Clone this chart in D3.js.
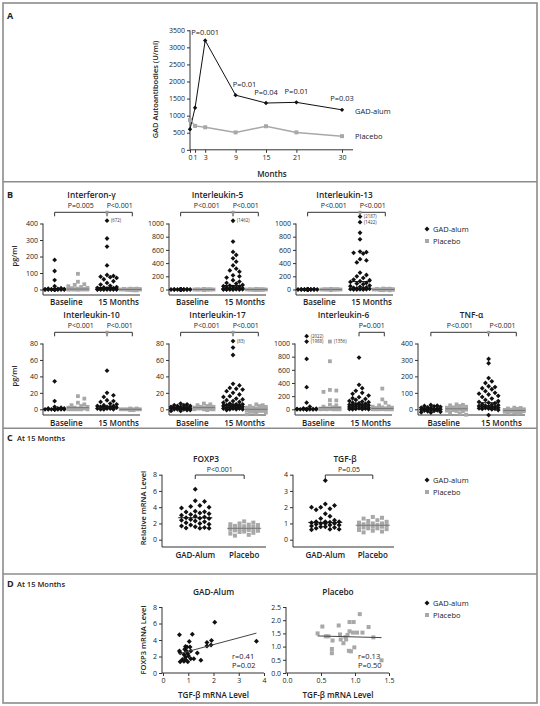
<!DOCTYPE html>
<html><head><meta charset="utf-8">
<script src="https://cdn.jsdelivr.net/npm/d3@7"></script>
<style>body{margin:0;background:#fff}svg text{font-family:'Open Sans',sans-serif}</style>
</head><body>
<svg id="c" width="540" height="706"></svg>
<script>
// ================= DATA =================
// Panel A
const months = [0, 1, 3, 9, 15, 21, 30];
const gadAlumAntibodies = [600, 1230, 3200, 1600, 1370, 1390, 1170];
const placeboAntibodies = [870, 700, 660, 510, 690, 510, 400];
const antibodyPValues = ["", "", "P=0.001", "P=0.01", "P=0.04", "P=0.01", "P=0.03"];
const antibodyTicks = [0, 500, 1000, 1500, 2000, 2500, 3000, 3500];

// Panel B (pg/ml) : groups = Baseline GAD-alum, Baseline placebo, 15 Months GAD-alum, 15 Months placebo
const timepoints = ["Baseline", "15 Months"];
const ifnBaseGad = [179,112,57,20,8,5,3,2,1,1,0,0,0,0,0,0,0,0,0,0,0,0];
const ifnBasePla = [95,47,32,28,20,15,10,8,5,3,2,1,0,0,0,0,0,0,0,0];
const ifn15Gad = [672,309,260,146,88,82,78,75,70,62,50,40,30,22,15,12,10,8,6,5,4,3,2,1,0,0,0,0,0,0,0];
const ifn15Pla = [5,5,4,3,2,1,0,0,0,0,0,0,-2,-3,-5,-5];
const ifnP = ["P=0.005", "P<0.001"];
const ifnCaps = [{group: 2, value: 672, shown: 417}];
const ifnTicks = [0, 100, 200, 300, 400];

const il5BaseGad = [3,2,1,1,0,0,0,0,0,0,0,0,0,0,0,0,0,0,0,0,0,0];
const il5BasePla = [3,2,1,1,0,0,0,0,0,0,0,0,0,0,0,0,0,0,0,0];
const il515Gad = [1462,726,569,523,472,421,365,315,289,270,215,200,180,140,120,100,90,70,60,50,45,40,30,25,20,15,10,8,5,4,3,2,0,0,0,0,0];
const il515Pla = [4,3,2,1,0,0,0,0,0,0,0,0,0,0,-1,-2,-3,-4];
const il5P = ["P<0.001", "P<0.001"];
const il5Caps = [{group: 2, value: 1462, shown: 1042}];
const il5Ticks = [0, 200, 400, 600, 800, 1000];

const il13BaseGad = [5,4,3,2,1,0,0,0,0,0,0,0,0,0,0,0,0,0,0,0,0,-2];
const il13BasePla = [5,4,3,2,1,0,0,0,0,0,0,0,0,0,0,0,0,0,0,-2];
const il1315Gad = [2187,1422,860,760,575,565,555,545,460,440,410,255,220,200,175,150,140,125,115,100,90,80,60,50,40,30,25,20,15,10,5,3,2,0,0,0];
const il1315Pla = [15,12,10,8,5,3,0,0,0,0,-3,-5,-8,-10,-12];
const il13P = ["P<0.001", "P<0.001"];
const il13Caps = [{group: 2, value: 2187, shown: 1105}, {group: 2, value: 1422, shown: 1020}];
const il13Ticks = [0, 200, 400, 600, 800, 1000];

const il10BaseGad = [34,10,3,2,1,1,1,0,0,0,0,0,0,0,0,0,0,0,0,0];
const il10BasePla = [16,13,8,6,5,4,3,2,2,1,1,0,0,0,0,0,0];
const il1015Gad = [47,20,17,15,11,10,9,7,6,5,4,4,3,3,3,2,2,2,1,1,1,0,0,0];
const il1015Pla = [1,1,0,0,0,0,0,0,0,0,0,0,0,-1,-1];
const il10P = ["P<0.001", "P<0.001"];
const il10Caps = [];
const il10Ticks = [0, 20, 40, 60, 80];

const il17BaseGad = [7,6,5,5,4,4,3,3,3,2,2,2,1,1,1,1,0,0,0,0,-1,-1,-2,-2];
const il17BasePla = [7,6,5,4,3,3,2,2,2,1,1,1,0,0,0,0,-1];
const il1715Gad = [83,75,66,31,29,26,25,24,22,20,18,16,15,13,12,11,10,9,8,7,6,6,5,5,5,4,4,4,3,3,3,2,2,2,1,1,1,0,0,0,-1];
const il1715Pla = [6,5,4,4,3,2,2,1,1,0,0,0,0,-1,-1,-2,-2,-3,-3,-4,-5,-6];
const il17P = ["P<0.001", "P<0.001"];
const il17Caps = [{group: 2, value: 83, shown: 83}];
const il17Ticks = [0, 20, 40, 60, 80];

const il6BaseGad = [2022,1988,765,337,100,40,15,10,5,3,2,0,0,0,0,0,0,0,0,0,0,0];
const il6BasePla = [1356,730,295,285,265,140,135,70,60,40,30,20,15,10,8,5,3,0,0,0,0,0];
const il615Gad = [786,372,321,281,250,235,209,184,168,158,143,128,117,107,100,92,85,77,70,66,60,55,51,45,40,36,30,25,20,15,10,5,3,2,0,0];
const il615Pla = [315,150,100,60,45,40,30,25,20,15,10,8,5,3,0,0,0,0,0,0];
const il6P = ["", "P=0.001"];
const il6Caps = [{group: 0, value: 2022, shown: 1112}, {group: 0, value: 1988, shown: 1030}, {group: 1, value: 1356, shown: 1030}];
const il6Ticks = [0, 200, 400, 600, 800, 1000];

const tnfBaseGad = [26,22,20,18,15,12,10,8,6,4,2,0,0,-2,-4,-6,-8,-10,-12,-15,-18,-20];
const tnfBasePla = [30,27,24,20,16,12,10,8,5,3,0,-2,-5,-8,-10,-12,-18,-25,-33];
const tnf15Gad = [306,280,190,170,160,140,135,128,122,110,100,95,90,82,75,65,57,50,45,40,37,30,27,25,22,20,18,16,15,12,10,8,6,5,3,2,0,-5,-35];
const tnf15Pla = [10,8,5,3,0,-2,-4,-5,-6,-8,-10,-12,-14,-15,-18,-20,-22,-25];
const tnfP = ["P<0.001", "P<0.001"];
const tnfCaps = [];
const tnfTicks = [0, 100, 200, 300, 400];

// Panel C (relative mRNA level at 15 months)
const cGroups = ["GAD-Alum", "Placebo"];
const foxp3Gad = [6.2,4.8,4.7,4.2,4.1,4.0,3.9,3.5,3.45,3.4,3.3,3.2,3.1,3.0,2.9,2.8,2.7,2.65,2.6,2.5,2.4,2.3,2.2,2.1,2.0,1.9,1.8,1.7,1.6,1.5,1.45,1.4,1.4];
const foxp3Pla = [2.25,2.1,2.0,1.9,1.85,1.8,1.7,1.65,1.6,1.55,1.5,1.45,1.4,1.4,1.35,1.3,1.3,1.25,1.2,1.15,1.1,1.0,0.95,0.85,0.75,0.6,0.5];
const tgfGad = [3.65,2.2,2.1,2.0,2.0,1.9,1.85,1.6,1.45,1.3,1.2,1.1,1.1,1.1,1.08,1.05,1.0,1.0,1.0,0.95,0.9,0.9,0.85,0.8,0.8,0.75,0.7,0.65,0.65,0.62];
const tgfPla = [1.4,1.35,1.3,1.2,1.15,1.1,1.05,1.0,1.0,0.95,0.9,0.9,0.88,0.85,0.8,0.8,0.75,0.7,0.7,0.65,0.6,0.55,0.5,0.45];
const foxp3P = "P<0.001";
const tgfP = "P=0.05";
const foxp3Ticks = [0, 2, 4, 6, 8];
const tgfTicks = [0, 1, 2, 3, 4];

// Panel D: [TGF-beta, FOXP3] per patient
const dGadTgf =   [0.65,1.16,2.05,3.7,1.92,1.74,1.74,1.9,1.36,1.5,0.65,0.68,0.89,1.04,0.86,0.92,0.98,0.83,1.01,0.89,1.1,0.95,1.07,0.68,0.83,0.89,0.98,1.1,1.22,0.77];
const dGadFoxp3 = [4.63,4.71,6.15,3.85,3.93,3.69,3.28,3.4,2.41,1.56,2.66,2.46,3.2,3.81,2.87,2.66,2.34,2.25,2.05,1.93,2.66,3.16,3.16,1.35,1.43,1.64,1.35,1.72,1.72,1.64];
const dPlaTgf =   [0.45,0.52,0.57,0.61,0.67,0.66,0.66,0.76,0.78,0.79,0.83,0.86,0.87,0.89,0.92,0.91,0.94,0.92,0.98,0.99,0.97,1.03,1.11,1.07,1.2,1.27,1.39];
const dPlaFoxp3 = [1.5,1.76,1.39,1.39,1.23,0.91,0.75,1.8,1.46,1.27,1.13,1.36,1.27,1.44,1.58,0.84,0.82,1.93,1.93,0.97,1.53,1.53,1.53,2.23,1.74,1.35,0.48];
const dGadStats = ["r=0.41", "P=0.02"];
const dPlaStats = ["r=0.13", "P=0.50"];
const dGadXTicks = [0, 1, 2, 3, 4];
const dGadYTicks = [0, 2, 4, 6, 8];
const dPlaXTicks = [0, 0.5, 1.0, 1.5];
const dPlaYTicks = [0, 0.5, 1.0, 1.5, 2.0, 2.5];

const legendLabels = ["GAD-alum", "Placebo"];

// ================= DRAWING =================
const svg = d3.select("#c");
const BLACK = "#111", GRAY = "#a8a8a8", FRAME = "#8c8c8c", TXT = "#222", AX = "#333";

function txt(x, y, s, o = {}) {
  return svg.append("text").attr("x", x).attr("y", y).text(s)
    .attr("font-size", o.size || 7).attr("font-weight", o.weight || 400)
    .attr("fill", o.fill || TXT).attr("text-anchor", o.anchor || "start");
}
function diamond(x, y, r) {
  svg.append("path").attr("d", `M${x},${y - r}L${x + r},${y}L${x},${y + r}L${x - r},${y}Z`).attr("fill", BLACK);
}
function square(x, y, s) {
  svg.append("rect").attr("x", x - s / 2).attr("y", y - s / 2).attr("width", s).attr("height", s).attr("fill", GRAY);
}
function line(x1, y1, x2, y2, c = AX, w = 1) {
  svg.append("line").attr("x1", x1).attr("y1", y1).attr("x2", x2).attr("y2", y2).attr("stroke", c).attr("stroke-width", w);
}
function styleAxis(g) {
  g.select(".domain").remove();
  g.selectAll("line").attr("stroke", AX);
  g.selectAll("text").attr("font-size", 7).attr("fill", TXT).attr("font-family", "'Open Sans',sans-serif");
}
function leftAxis(x, scale, ticks, fmt, top, bottom) {
  const g = svg.append("g").attr("transform", `translate(${x},0)`)
    .call(d3.axisLeft(scale).tickValues(ticks).tickSize(3).tickPadding(2).tickFormat(fmt || d3.format("d")));
  styleAxis(g);
  line(x, top, x, bottom);
}
function bottomAxis(y, scale, ticks, fmt, x1, x2) {
  const g = svg.append("g").attr("transform", `translate(0,${y})`)
    .call(d3.axisBottom(scale).tickValues(ticks).tickSize(3).tickPadding(2).tickFormat(fmt || d3.format("d")));
  styleAxis(g);
  line(x1, y, x2, y);
}
function legend(x, y) {
  diamond(x, y, 2.5); txt(x + 6, y + 2.5, legendLabels[0], {size: 7.5});
  square(x, y + 12, 4); txt(x + 6, y + 14.5, legendLabels[1], {size: 7.5});
}
function swarm(values, yScale, cx, o) {
  const pts = values.map(v => ({v, y: yScale(v)})).sort((a, b) => a.y - b.y);
  const placed = [];
  const nMax = 2 * Math.floor(o.maxHalf / o.step);
  pts.forEach(p => {
    let best = cx, bestD = -1;
    for (let k = 0; k <= nMax; k++) {
      const off = (k % 2 ? 1 : -1) * Math.ceil(k / 2) * o.step;
      const x = cx + off;
      let md = Infinity;
      placed.forEach(q => { const dd = Math.hypot(q.x - x, q.y - p.y); if (dd < md) md = dd; });
      if (md >= o.d) { best = x; bestD = md; break; }
      if (md > bestD + 0.01) { bestD = md; best = x; }
    }
    p.x = best; placed.push(p);
  });
  return placed;
}
function dotColumn(values, caps, yScale, cx, isGad, o) {
  const disp = values.map(v => { const c = caps.find(c => c.value === v); return c ? c.shown : v; });
  const pts = swarm(disp, yScale, cx, o);
  pts.forEach(p => isGad ? diamond(p.x, p.y, o.r) : square(p.x, p.y, o.s));
  const med = d3.median(values);
  line(cx - o.mw / 2, yScale(med), cx + o.mw / 2, yScale(med), isGad ? BLACK : "#777", 1);
  caps.forEach(c => {
    const p = pts.find(p => p.v === c.shown);
    txt((p ? p.x : cx) + 4, yScale(c.shown) + 1.6, `(${c.value})`, {size: 4.4, fill: "#333"});
  });
}

// ---- frame ----
svg.append("rect").attr("x", 3).attr("y", 3).attr("width", 534).attr("height", 700)
  .attr("fill", "none").attr("stroke", FRAME).attr("stroke-width", 1.6);
[181.8, 428.3, 574].forEach(y => line(3, y, 537, y, FRAME, 1.6));
txt(7, 19, "A", {size: 9, weight: 700});
txt(7, 198, "B", {size: 9, weight: 700});
txt(7, 441, "C", {size: 9, weight: 700}); txt(17, 441, "At 15 Months", {size: 7.5, weight: 600});
txt(7, 587, "D", {size: 9, weight: 700}); txt(17, 587, "At 15 Months", {size: 7.5, weight: 600});

// ---- Panel A ----
{
  const x = d3.scaleLinear().domain([0, 30]).range([190, 342]);
  const y = d3.scaleLinear().domain([0, 3500]).range([149.8, 30.3]);
  leftAxis(190, y, antibodyTicks, d3.format("d"), y(3500), y(0));
  bottomAxis(y(0), x, months, d3.format("d"), 190, 353);
  const ln = d3.line().x((d, i) => x(months[i])).y(d => y(d));
  svg.append("path").attr("d", ln(placeboAntibodies)).attr("fill", "none").attr("stroke", GRAY).attr("stroke-width", 1.5);
  svg.append("path").attr("d", ln(gadAlumAntibodies)).attr("fill", "none").attr("stroke", BLACK).attr("stroke-width", 1);
  placeboAntibodies.forEach((v, i) => square(x(months[i]), y(v), 4));
  gadAlumAntibodies.forEach((v, i) => diamond(x(months[i]), y(v), 2.2));
  const pDx = [0, 0, 0, 9, 0, 0, 0];
  gadAlumAntibodies.forEach((v, i) => {
    if (antibodyPValues[i]) txt(x(months[i]) + pDx[i], y(v) - (i === 2 ? 6 : 8.5), antibodyPValues[i], {size: 7.5, anchor: "middle"});
  });
  txt(355, 113.6, legendLabels[0], {size: 7.5});
  txt(355, 138.8, legendLabels[1], {size: 7.5});
  txt(272, 177, "Months", {size: 8, weight: 600, anchor: "middle"});
  txt(0, 0, "GAD Autoantibodies (U/ml)", {size: 7.5, weight: 600, anchor: "middle"})
    .attr("transform", "translate(158,89.5) rotate(-90)");
}

// ---- Panel B ----
{
  const rows = [
    {titleY: 198, pY: 207.5, brY: 212.3, top: 223.5, zero: 289.5, axisY: 295, catY: 305, labelY: 256},
    {titleY: 318, pY: 327.5, brY: 332.3, top: 343.5, zero: 409.3, axisY: 415, catY: 426, labelY: 376}
  ];
  const panels = [
    {name: "Interferon-γ", data: [ifnBaseGad, ifnBasePla, ifn15Gad, ifn15Pla], max: 400, ticks: ifnTicks, p: ifnP, caps: ifnCaps, row: 0, ax: 43, w: 97},
    {name: "Interleukin-5", data: [il5BaseGad, il5BasePla, il515Gad, il515Pla], max: 1000, ticks: il5Ticks, p: il5P, caps: il5Caps, row: 0, ax: 169, w: 97},
    {name: "Interleukin-13", data: [il13BaseGad, il13BasePla, il1315Gad, il1315Pla], max: 1000, ticks: il13Ticks, p: il13P, caps: il13Caps, row: 0, ax: 296, w: 97},
    {name: "Interleukin-10", data: [il10BaseGad, il10BasePla, il1015Gad, il1015Pla], max: 80, ticks: il10Ticks, p: il10P, caps: il10Caps, row: 1, ax: 43, w: 97},
    {name: "Interleukin-17", data: [il17BaseGad, il17BasePla, il1715Gad, il1715Pla], max: 80, ticks: il17Ticks, p: il17P, caps: il17Caps, row: 1, ax: 169, w: 97},
    {name: "Interleukin-6", data: [il6BaseGad, il6BasePla, il615Gad, il615Pla], max: 1000, ticks: il6Ticks, p: il6P, caps: il6Caps, row: 1, ax: 295, w: 97},
    {name: "TNF-α", data: [tnfBaseGad, tnfBasePla, tnf15Gad, tnf15Pla], max: 400, ticks: tnfTicks, p: tnfP, caps: tnfCaps, row: 1, ax: 418, w: 107}
  ];
  const colFrac = [0.12, 0.36, 0.66, 0.9];
  const opt = {step: 3.2, d: 4.2, maxHalf: 10, r: 2.4, s: 3.8, mw: 22};
  panels.forEach(P => {
    const R = rows[P.row];
    const y = d3.scaleLinear().domain([0, P.max]).range([R.zero, R.top]);
    const cols = colFrac.map(f => P.ax + f * P.w);
    leftAxis(P.ax, y, P.ticks, d3.format("d"), R.top, R.axisY);
    line(P.ax, R.axisY, P.ax + P.w, R.axisY);
    P.data.forEach((vals, gi) => dotColumn(vals, P.caps.filter(c => c.group === gi), y, cols[gi], gi % 2 === 0, opt));
    txt(P.ax + P.w / 2, R.titleY, P.name, {size: 8.3, weight: 600, anchor: "middle"});
    txt((cols[0] + cols[1]) / 2, R.catY, timepoints[0], {size: 8, weight: 600, anchor: "middle"});
    txt((cols[2] + cols[3]) / 2, R.catY, timepoints[1], {size: 8, weight: 600, anchor: "middle"});
    const right = cols[3] + 2;
    if (P.p[0]) {
      line(cols[0], R.brY, right, R.brY);
      [cols[0], cols[2], right].forEach(xx => line(xx, R.brY, xx, R.brY + 4));
      txt((cols[0] + cols[2]) / 2, R.pY, P.p[0], {size: 7, anchor: "middle"});
      svg.append("rect").attr("x", cols[2] - 1.5).attr("y", R.brY - 1.5).attr("width", 3).attr("height", 3).attr("fill", "#999");
    } else {
      line(cols[2], R.brY, right, R.brY);
      [cols[2], right].forEach(xx => line(xx, R.brY, xx, R.brY + 4));
    }
    txt((cols[2] + right) / 2, R.pY, P.p[1], {size: 7, anchor: "middle"});
  });
  rows.forEach(R => txt(0, 0, "pg/ml", {size: 7.5, weight: 600, anchor: "middle"})
    .attr("transform", `translate(17,${R.labelY}) rotate(-90)`));
  legend(427, 229);
}

// ---- Panel C ----
{
  const top = 474.7, zero = 539.7, axisY = 547;
  const panels = [
    {name: "FOXP3", data: [foxp3Gad, foxp3Pla], max: 8, ticks: foxp3Ticks, p: foxp3P, ax: 162, w: 104, titleX: 206},
    {name: "TGF-β", data: [tgfGad, tgfPla], max: 4, ticks: tgfTicks, p: tgfP, ax: 293, w: 101, titleX: 345}
  ];
  const colFrac = [0.32, 0.79];
  const opt = {step: 4.6, d: 5, maxHalf: 16, r: 2.5, s: 4, mw: 34};
  panels.forEach(P => {
    const y = d3.scaleLinear().domain([0, P.max]).range([zero, top]);
    const cols = colFrac.map(f => P.ax + f * P.w);
    leftAxis(P.ax, y, P.ticks, d3.format("d"), top, axisY);
    line(P.ax, axisY, P.ax + P.w, axisY);
    P.data.forEach((vals, gi) => dotColumn(vals, [], y, cols[gi], gi === 0, opt));
    txt(P.titleX, 462, P.name, {size: 8.3, weight: 600, anchor: "middle"});
    cols.forEach((cx, gi) => txt(cx, 558, cGroups[gi], {size: 8, weight: 600, anchor: "middle"}));
    line(cols[0], 475, cols[1], 475);
    cols.forEach(cx => line(cx, 475, cx, 479));
    txt((cols[0] + cols[1]) / 2, 471.5, P.p, {size: 7, anchor: "middle"});
  });
  txt(0, 0, "Relative mRNA Level", {size: 7.5, weight: 600, anchor: "middle"})
    .attr("transform", "translate(146,508) rotate(-90)");
  legend(427, 480);
}

// ---- Panel D ----
{
  const y0 = 673, yTop = 607;
  const plots = [
    {name: "GAD-Alum", xs: dGadTgf, ys: dGadFoxp3, xmax: 4, ymax: 8, xr: [163, 264], ax: 162, xt: dGadXTicks, yt: dGadYTicks,
     fmtX: d3.format("d"), fmtY: d3.format("d"), gad: true, stats: dGadStats, statX: 232},
    {name: "Placebo", xs: dPlaTgf, ys: dPlaFoxp3, xmax: 1.5, ymax: 2.5, xr: [287, 389], ax: 286, xt: dPlaXTicks, yt: dPlaYTicks,
     fmtX: d3.format(".1f"), fmtY: d3.format(".1f"), gad: false, stats: dPlaStats, statX: 358}
  ];
  plots.forEach(P => {
    const x = d3.scaleLinear().domain([0, P.xmax]).range(P.xr);
    const y = d3.scaleLinear().domain([0, P.ymax]).range([y0, yTop]);
    leftAxis(P.ax, y, P.yt, P.fmtY, yTop, y0);
    bottomAxis(y0, x, P.xt, P.fmtX, P.ax, P.xr[1]);
    P.xs.forEach((xv, i) => P.gad ? diamond(x(xv), y(P.ys[i]), 2.5) : square(x(xv), y(P.ys[i]), 4));
    // least-squares fit
    const mx = d3.mean(P.xs), my = d3.mean(P.ys);
    const sxy = d3.sum(P.xs, (xv, i) => (xv - mx) * (P.ys[i] - my));
    const sxx = d3.sum(P.xs, xv => (xv - mx) * (xv - mx));
    const b = sxy / sxx, a = my - b * mx;
    const [xa, xb] = d3.extent(P.xs);
    line(x(xa), y(a + b * xa), x(xb), y(a + b * xb), "#444", 1);
    txt((P.xr[0] + P.xr[1]) / 2, 595, P.name, {size: 8.3, weight: 600, anchor: "middle"});
    txt(P.statX, 659, P.stats[0], {size: 7.5});
    txt(P.statX, 668, P.stats[1], {size: 7.5});
    txt((P.xr[0] + P.xr[1]) / 2, 697.5, "TGF-β mRNA Level", {size: 8, weight: 600, anchor: "middle"});
  });
  txt(0, 0, "FOXP3 mRNA Level", {size: 7.5, weight: 600, anchor: "middle"})
    .attr("transform", "translate(146,640) rotate(-90)");
  legend(427, 603);
}
</script>
</body></html>
